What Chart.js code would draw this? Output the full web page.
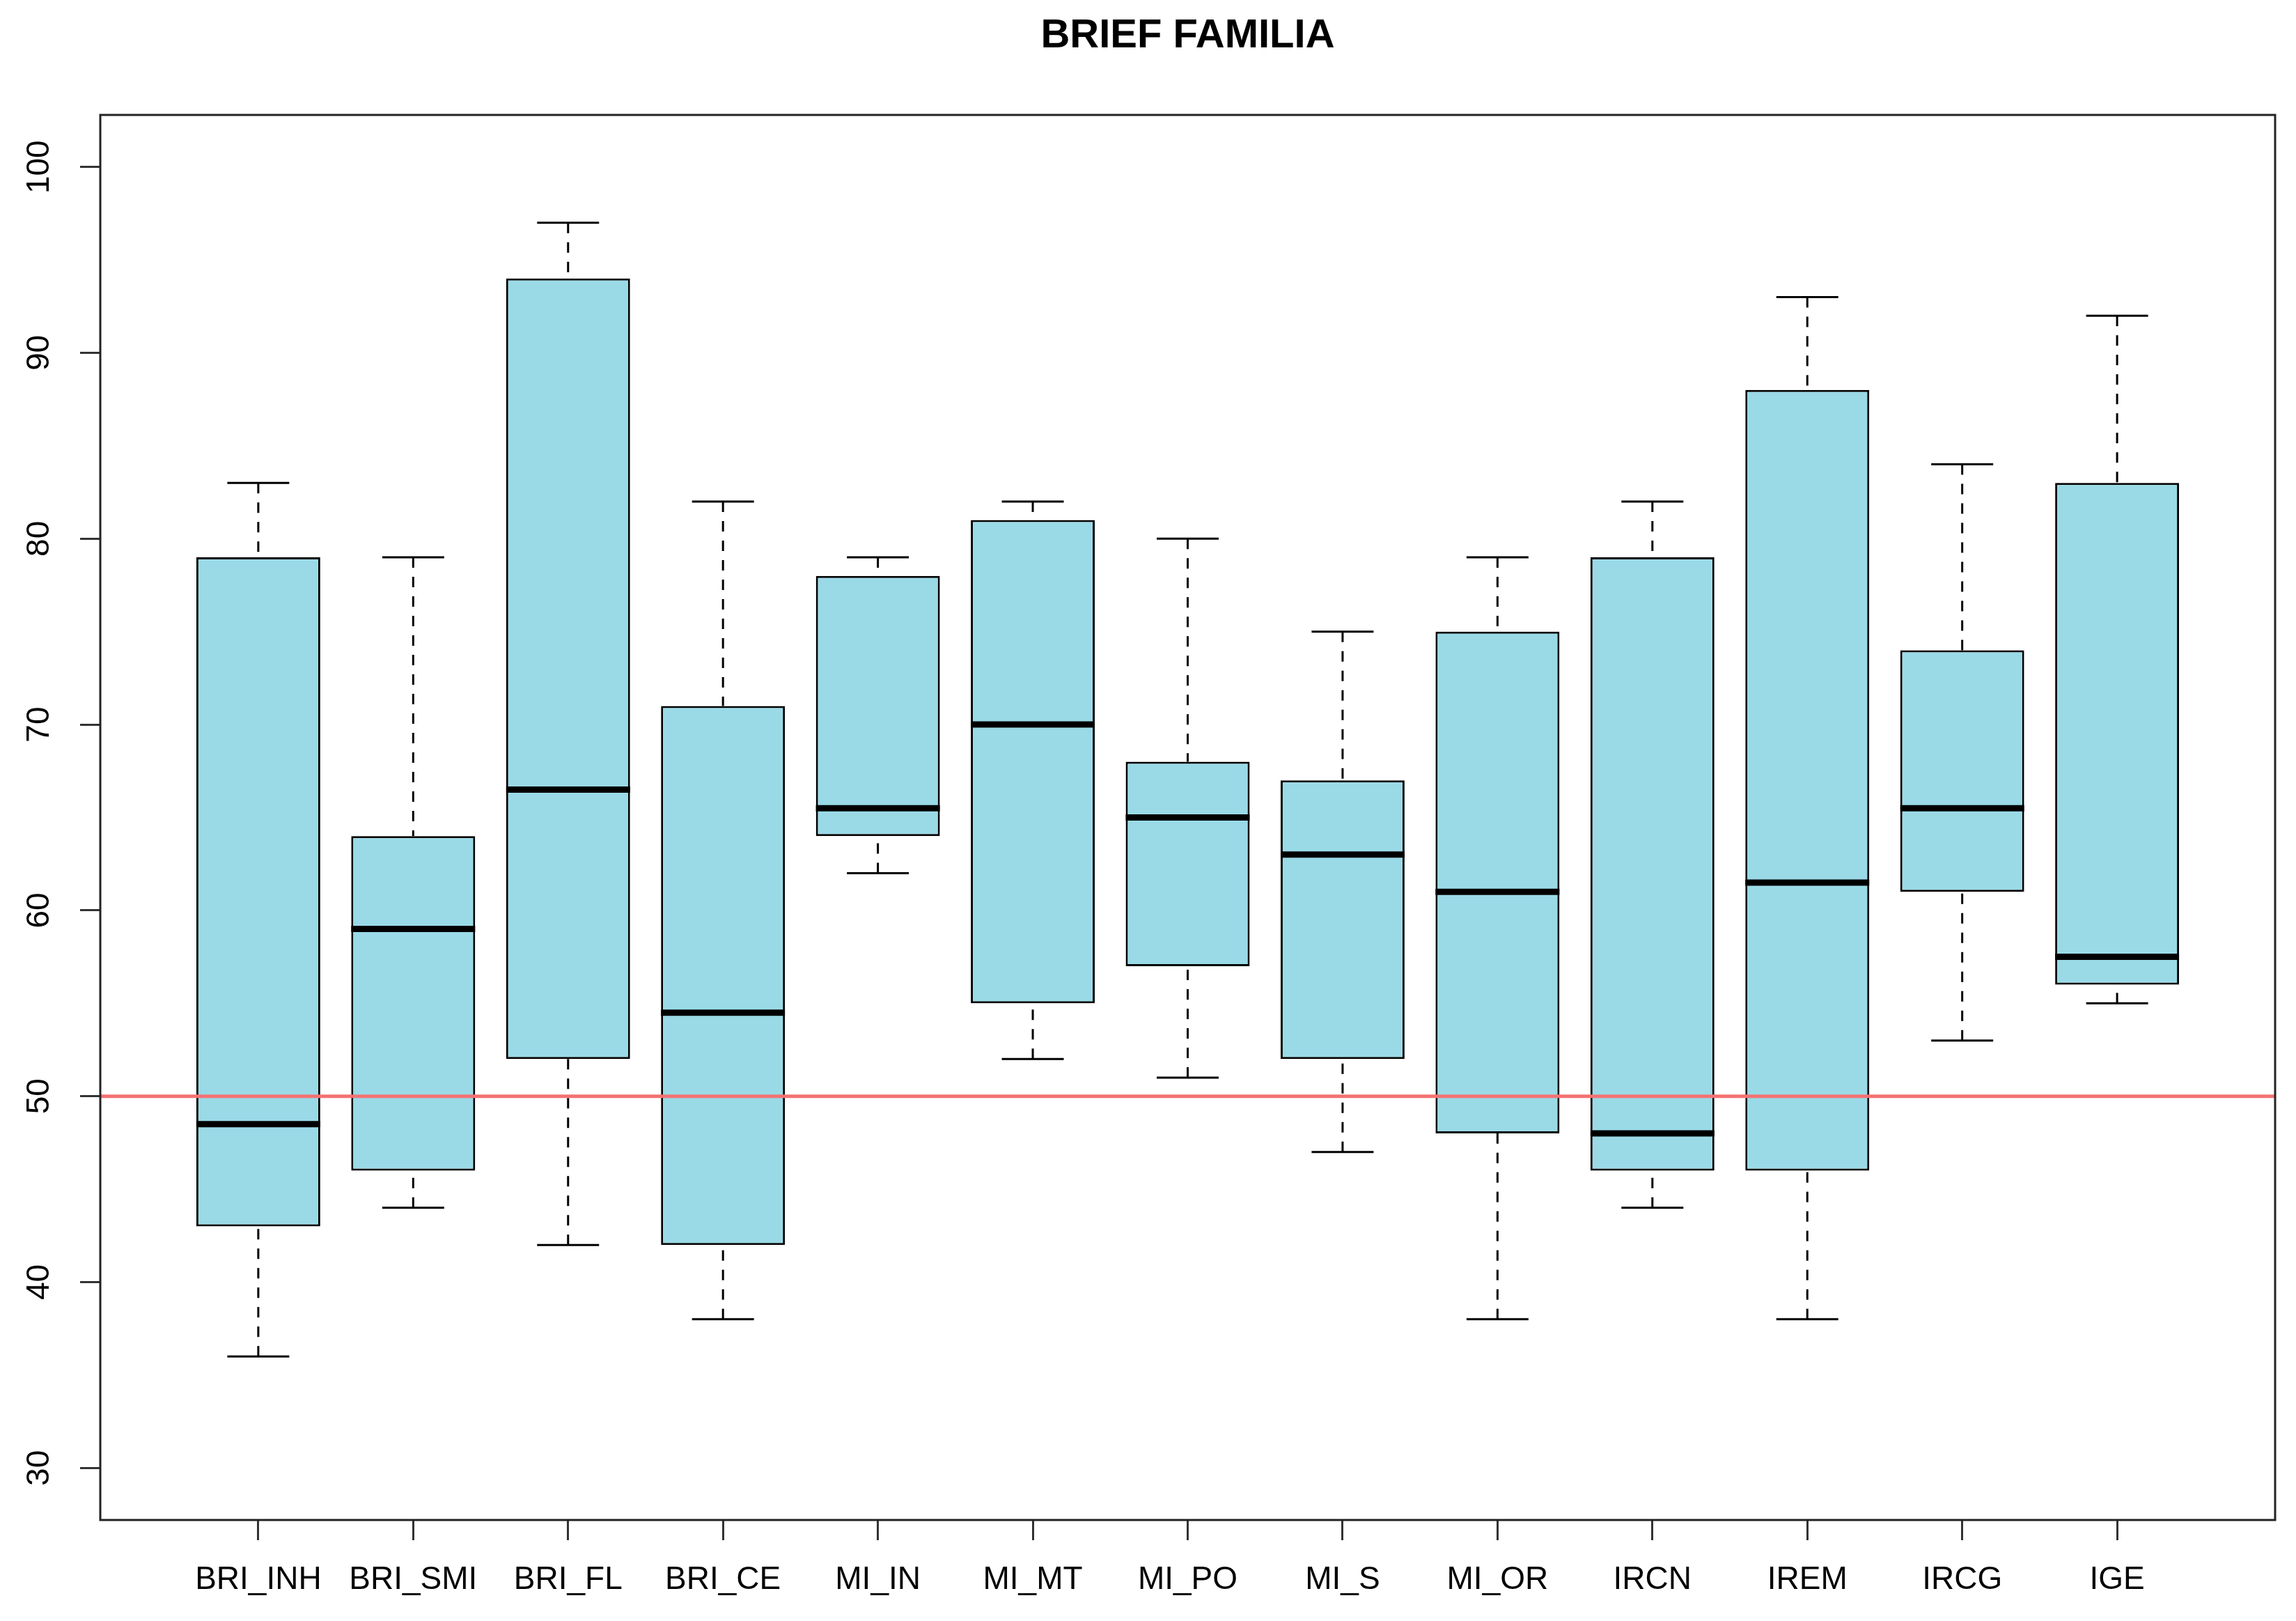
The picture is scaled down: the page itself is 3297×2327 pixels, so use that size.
<!DOCTYPE html>
<html>
<head>
<meta charset="utf-8">
<script src="https://cdn.jsdelivr.net/npm/chart.js@4/dist/chart.umd.min.js"></script>
<style>
html,body{margin:0;padding:0;background:#fff}
#wrap{width:3297px;height:2327px;position:relative}
</style>
</head>
<body>
<div id="wrap"><canvas id="c"></canvas></div>
<script>
// ---- data ----
const title = 'BRIEF FAMILIA';
const categories = ['BRI_INH','BRI_SMI','BRI_FL','BRI_CE','MI_IN','MI_MT','MI_PO','MI_S','MI_OR','IRCN','IREM','IRCG','IGE'];
const whiskerLow  = [36, 44, 42, 38, 62, 52, 51, 47, 38, 44, 38, 53, 55];
const q1          = [43, 46, 52, 42, 64, 55, 57, 52, 48, 46, 46, 61, 56];
const median      = [48.5, 59, 66.5, 54.5, 65.5, 70, 65, 63, 61, 48, 61.5, 65.5, 57.5];
const q3          = [79, 64, 94, 71, 78, 81, 68, 67, 75, 79, 88, 74, 83];
const whiskerHigh = [83, 79, 97, 82, 79, 82, 80, 75, 79, 82, 93, 84, 92];
const yTicks = [30, 40, 50, 60, 70, 80, 90, 100];
const yLimits = [30, 100];
const refLine = 50;

// ---- axis ranges (R style 4% extension) ----
const n = categories.length;
const xMin = 0.5 - 0.04 * n, xMax = n + 0.5 + 0.04 * n;
const yExt = 0.04 * (yLimits[1] - yLimits[0]);
const yMin = yLimits[0] - yExt, yMax = yLimits[1] + yExt;

// ---- styles ----
const labelFamily = "'Liberation Sans Narrow', 'Arial Narrow', 'Liberation Sans', Arial, sans-serif";
const labelSize = 46;
const tickLen = 29;
const mctx = document.createElement('canvas').getContext('2d');
mctx.font = labelSize + 'px ' + labelFamily;
const w100 = mctx.measureText(String(yTicks[yTicks.length - 1])).width;
const yAxisWidth = 144;
const yLabelCenter = 57.5;
const yPad = yAxisWidth - yLabelCenter - tickLen - w100 / 2;

function seg(ctx, x1, y1, x2, y2) {
  ctx.beginPath(); ctx.moveTo(x1, y1); ctx.lineTo(x2, y2); ctx.stroke();
}

const boxParts = {
  id: 'boxParts',
  beforeDatasetsDraw(chart) {
    const {ctx, scales: {x, y}} = chart;
    const meta = chart.getDatasetMeta(0);
    ctx.save();
    ctx.strokeStyle = '#000';
    ctx.lineWidth = 3;
    ctx.lineCap = 'butt';
    meta.data.forEach((bar, i) => {
      const cx = x.getPixelForValue(i + 1);
      const half = bar.width / 4;
      const yHi = y.getPixelForValue(whiskerHigh[i]);
      const yLo = y.getPixelForValue(whiskerLow[i]);
      ctx.setLineDash([15, 13]);
      seg(ctx, cx, yHi, cx, y.getPixelForValue(q3[i]));
      seg(ctx, cx, yLo, cx, y.getPixelForValue(q1[i]));
      ctx.setLineDash([]);
      seg(ctx, cx - half, yHi, cx + half, yHi);
      seg(ctx, cx - half, yLo, cx + half, yLo);
    });
    ctx.restore();
  },
  afterDatasetDraw(chart, args) {
    if (args.index !== 0) return;
    const {ctx, scales: {y}} = chart;
    ctx.save();
    ctx.strokeStyle = '#000';
    ctx.lineWidth = 9;
    ctx.lineCap = 'butt';
    args.meta.data.forEach((bar, i) => {
      const my = y.getPixelForValue(median[i]);
      seg(ctx, bar.x - bar.width / 2, my, bar.x + bar.width / 2, my);
    });
    ctx.restore();
  },
  afterDatasetsDraw(chart) {
    const {ctx, chartArea: a} = chart;
    ctx.save();
    ctx.strokeStyle = '#222';
    ctx.lineWidth = 3;
    ctx.strokeRect(a.left, a.top, a.right - a.left, a.bottom - a.top);
    ctx.restore();
  }
};

new Chart(document.getElementById('c'), {
  type: 'bar',
  data: {
    datasets: [
      {
        label: 'box',
        data: categories.map((c, i) => ({x: i + 1, y: [q1[i], q3[i]]})),
        backgroundColor: '#9ADAE7',
        borderColor: '#000',
        borderWidth: 3,
        borderSkipped: false,
        barPercentage: 0.8,
        categoryPercentage: 1,
        order: 2
      },
      {
        type: 'line',
        label: 'ref',
        data: [{x: xMin, y: refLine}, {x: xMax, y: refLine}],
        borderColor: '#F47272',
        borderWidth: 5,
        pointRadius: 0,
        fill: false,
        order: 1
      }
    ]
  },
  options: {
    responsive: true,
    maintainAspectRatio: false,
    devicePixelRatio: 1,
    animation: false,
    layout: {padding: {left: 0, right: 30, top: 0, bottom: 0}},
    plugins: {
      legend: {display: false},
      tooltip: {enabled: false},
      title: {
        display: true,
        fullSize: false,
        text: title,
        color: '#000',
        font: {family: "'Liberation Sans', Arial, sans-serif", size: 58, weight: 'bold', lineHeight: 1.2},
        padding: {top: 17.2, bottom: 78.2}
      }
    },
    scales: {
      x: {
        type: 'linear',
        min: xMin,
        max: xMax,
        offset: false,
        afterBuildTicks: s => { s.ticks = categories.map((c, i) => ({value: i + 1})); },
        afterFit: s => { s.height = 145; },
        grid: {display: true, drawOnChartArea: false, drawTicks: true, tickLength: tickLen, tickWidth: 3, tickColor: '#333', offset: false},
        border: {display: false},
        ticks: {
          autoSkip: false, maxRotation: 0, minRotation: 0,
          padding: 30,
          color: '#000',
          font: {family: labelFamily, size: labelSize, lineHeight: 1.2},
          callback: v => categories[Math.round(v) - 1]
        }
      },
      y: {
        type: 'linear',
        min: yMin,
        max: yMax,
        afterBuildTicks: s => { s.ticks = yTicks.map(v => ({value: v})); },
        afterFit: s => { s.width = yAxisWidth; },
        grid: {display: true, drawOnChartArea: false, drawTicks: true, tickLength: tickLen, tickWidth: 3, tickColor: '#333'},
        border: {display: false},
        ticks: {
          minRotation: 90, maxRotation: 90,
          crossAlign: 'center',
          padding: yPad,
          color: '#000',
          font: {family: labelFamily, size: labelSize, lineHeight: 1.2}
        }
      }
    }
  },
  plugins: [boxParts]
});
</script>
</body>
</html>
